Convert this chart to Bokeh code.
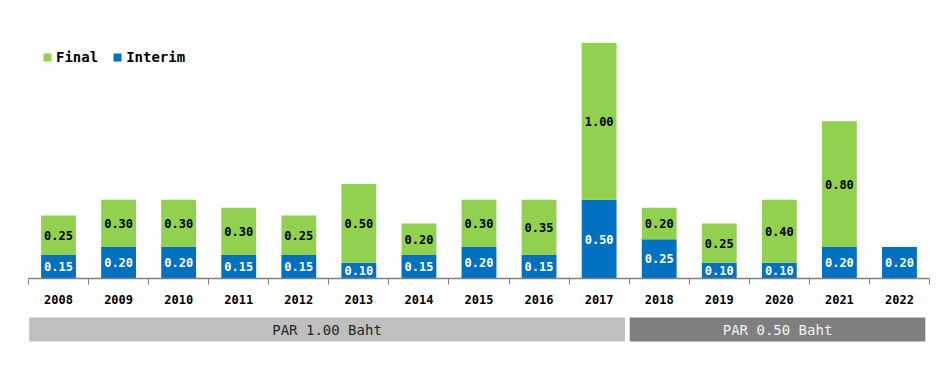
from bokeh.plotting import figure
from bokeh.models import ColumnDataSource, Range1d, FixedTicker, Legend, LegendItem
from bokeh.layouts import column
from bokeh.embed import file_html
from bokeh.resources import INLINE
from bokeh.core.properties import value

years = ["2008", "2009", "2010", "2011", "2012", "2013", "2014", "2015",
         "2016", "2017", "2018", "2019", "2020", "2021", "2022"]
interim = [0.15, 0.20, 0.20, 0.15, 0.15, 0.10, 0.15, 0.20, 0.15, 0.50,
           0.25, 0.10, 0.10, 0.20, 0.20]
final = [0.25, 0.30, 0.30, 0.30, 0.25, 0.50, 0.20, 0.30, 0.35, 1.00,
         0.20, 0.25, 0.40, 0.80, 0.00]
par_labels = ["PAR 1.00 Baht", "PAR 0.50 Baht"]
par_first_year = ["2008", "2018"]
par_last_year = ["2017", "2022"]

GREEN = "#92d050"
BLUE = "#0070c0"
MONO = "DejaVu Sans Mono"

n = len(years)
xs = list(range(n))
x_range = Range1d(-0.5, n - 0.5)

top_int = interim
top_fin = [a + b for a, b in zip(interim, final)]

src = ColumnDataSource(dict(
    x=xs, interim=interim, final=final, top_int=top_int, top_fin=top_fin,
    mid_int=[v / 2 for v in interim],
    mid_fin=[a + b / 2 for a, b in zip(interim, final)],
    lab_int=["%.2f" % v for v in interim],
    lab_fin=["%.2f" % v if v > 0 else "" for v in final],
))

p = figure(width=933, height=310, x_range=x_range, y_range=Range1d(0, 1.5),
           output_backend="svg", toolbar_location=None,
           min_border_left=28, min_border_right=4, min_border_top=42,
           min_border_bottom=32)
p.outline_line_color = None
p.grid.visible = False
p.yaxis.visible = False

W = 0.58
r_int = p.vbar(x="x", bottom=0, top="top_int", width=W, source=src,
               fill_color=BLUE, line_color=None)
r_fin = p.vbar(x="x", bottom="top_int", top="top_fin", width=W, source=src,
               fill_color=GREEN, line_color=None)

p.text(x="x", y="mid_int", text="lab_int", source=src, text_color="white",
       text_font=value(MONO), text_font_style="bold", text_font_size="12px",
       text_align="center", text_baseline="middle")
p.text(x="x", y="mid_fin", text="lab_fin", source=src, text_color="black",
       text_font=value(MONO), text_font_style="bold", text_font_size="12px",
       text_align="center", text_baseline="middle")

ax = p.xaxis[0]
ax.ticker = FixedTicker(ticks=xs, minor_ticks=[i - 0.5 for i in range(n + 1)])
ax.major_label_overrides = {i: y for i, y in enumerate(years)}
ax.major_tick_out = 0
ax.major_tick_in = 0
ax.minor_tick_out = 6
ax.minor_tick_in = 0
ax.minor_tick_line_color = "#808080"
ax.axis_line_color = "#808080"
ax.axis_line_width = 1.5
ax.major_label_standoff = 10
ax.major_label_text_font = MONO
ax.major_label_text_font_style = "bold"
ax.major_label_text_font_size = "12px"
ax.major_label_text_color = "black"

legend = Legend(items=[LegendItem(label="Final", renderers=[r_fin]),
                       LegendItem(label="Interim", renderers=[r_int])],
                orientation="horizontal", location=(14, 213),
                border_line_color=None, background_fill_alpha=0,
                label_text_font=MONO, label_text_font_style="bold",
                label_text_font_size="14px", label_text_color="black",
                glyph_width=10, glyph_height=10,
                spacing=14, label_standoff=4, margin=0, padding=8)
p.add_layout(legend)

# PAR band
idx = {y: i for i, y in enumerate(years)}
left = [idx[a] - 0.5 + 0.01 for a in par_first_year]
right = [idx[b] + 0.5 - 0.07 for b in par_last_year]
bsrc = ColumnDataSource(dict(left=left, right=right,
                             cx=[(l + r) / 2 for l, r in zip(left, right)],
                             label=par_labels,
                             fill=["#bfbfbf", "#7f7f7f"],
                             tcol=["#262626", "#f2f2f2"]))
q = figure(width=933, height=40, x_range=x_range, y_range=Range1d(0, 40),
           output_backend="svg", toolbar_location=None,
           min_border_left=28, min_border_right=4, min_border_top=0,
           min_border_bottom=0)
q.axis.visible = False
q.grid.visible = False
q.outline_line_color = None
q.quad(left="left", right="right", bottom=9, top=33, source=bsrc,
       fill_color="fill", line_color=None)
q.text(x="cx", y=21, text="label", source=bsrc, text_color="tcol",
       text_font=value(MONO), text_font_size="14px", text_align="center",
       text_baseline="middle")

layout = column(p, q, spacing=0)
open("out.html", "w").write(file_html(layout, INLINE))
